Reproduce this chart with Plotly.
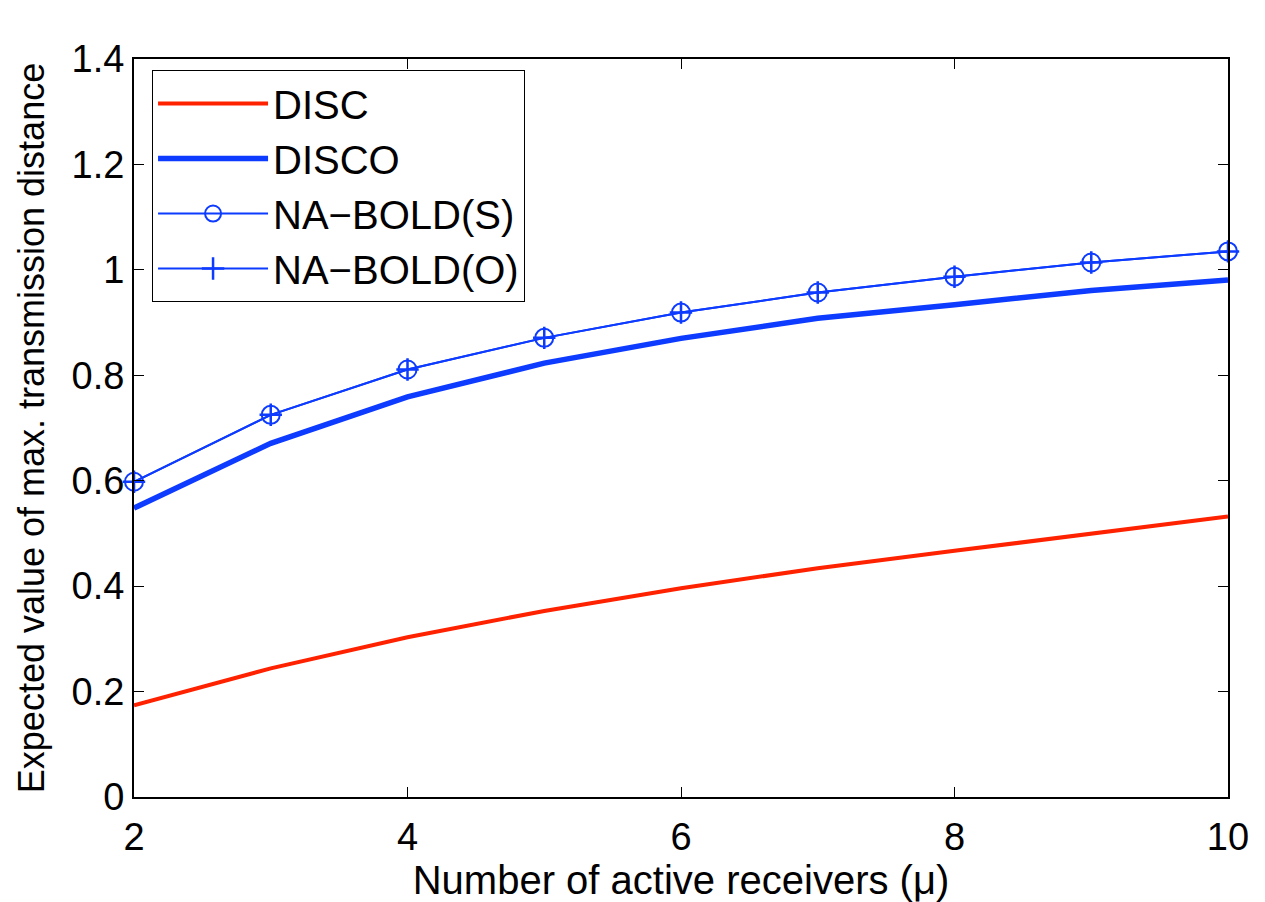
import plotly.graph_objects as go

mu = [2, 3, 4, 5, 6, 7, 8, 9, 10]
disc = [0.174, 0.244, 0.303, 0.353, 0.396, 0.434, 0.467, 0.499, 0.532]
disco = [0.548, 0.671, 0.759, 0.823, 0.870, 0.908, 0.934, 0.961, 0.981]
nabold_s = [0.598, 0.725, 0.811, 0.871, 0.919, 0.957, 0.987, 1.014, 1.035]
nabold_o = [0.598, 0.725, 0.811, 0.871, 0.919, 0.957, 0.987, 1.014, 1.035]

x_ticks = [2, 4, 6, 8, 10]
y_ticks = [0, 0.2, 0.4, 0.6, 0.8, 1, 1.2, 1.4]
y_tick_text = ["0", "0.2", "0.4", "0.6", "0.8", "1", "1.2", "1.4"]

RED = "#FF2200"
BLUE = "#0D3BFF"
FONT = "Liberation Sans, Arial, sans-serif"

fig = go.Figure()
fig.add_trace(go.Scatter(x=mu, y=disc, mode="lines", name="DISC",
                         line=dict(color=RED, width=4), legendgroup="a"))
fig.add_trace(go.Scatter(x=mu, y=disco, mode="lines", name="DISCO",
                         line=dict(color=BLUE, width=5.5), legendgroup="b"))
fig.add_trace(go.Scatter(x=mu, y=nabold_s, mode="lines+markers", name="NA\u2212BOLD(S)",
                         line=dict(color=BLUE, width=2),
                         marker=dict(symbol="circle-open", size=18, color=BLUE,
                                     line=dict(width=2, color=BLUE)),
                         legendgroup="c", cliponaxis=False))
fig.add_trace(go.Scatter(x=mu, y=nabold_o, mode="lines+markers", name="NA\u2212BOLD(O)",
                         line=dict(color=BLUE, width=2),
                         marker=dict(symbol="cross-thin-open", size=16, color=BLUE,
                                     line=dict(width=2.5, color=BLUE)),
                         legendgroup="d", cliponaxis=False))

axis_common = dict(
    showline=True, linecolor="black", linewidth=2, mirror="ticks",
    ticks="inside", ticklen=10, tickwidth=1, tickcolor="black",
    showgrid=False, zeroline=False,
    tickfont=dict(family=FONT, size=38, color="black"),
)

# page body adds an 8px offset; figure is sized to fill the rest of the window
fig.update_layout(
    width=1257, height=894,
    paper_bgcolor="white", plot_bgcolor="white",
    margin=dict(l=126, r=37, t=51, b=105),
    font=dict(family=FONT, color="black"),
    xaxis=dict(range=[2, 10], tickvals=x_ticks, ticktext=[str(v) for v in x_ticks],
               ticklabelstandoff=5,
               title=dict(text="Number of active receivers (\u03bc)",
                          font=dict(family=FONT, size=40), standoff=0),
               **axis_common),
    yaxis=dict(range=[0, 1.4], tickvals=y_ticks, ticktext=y_tick_text,
               title=dict(text="Expected value of max. transmission distance",
                          font=dict(family=FONT, size=36), standoff=16),
               **axis_common),
    legend=dict(x=0.0165, y=0.985, xanchor="left", yanchor="top",
                bgcolor="white", bordercolor="black", borderwidth=1,
                font=dict(family=FONT, size=40, color="black"),
                tracegroupgap=0, itemwidth=110),
)

fig.write_html("out.html")
